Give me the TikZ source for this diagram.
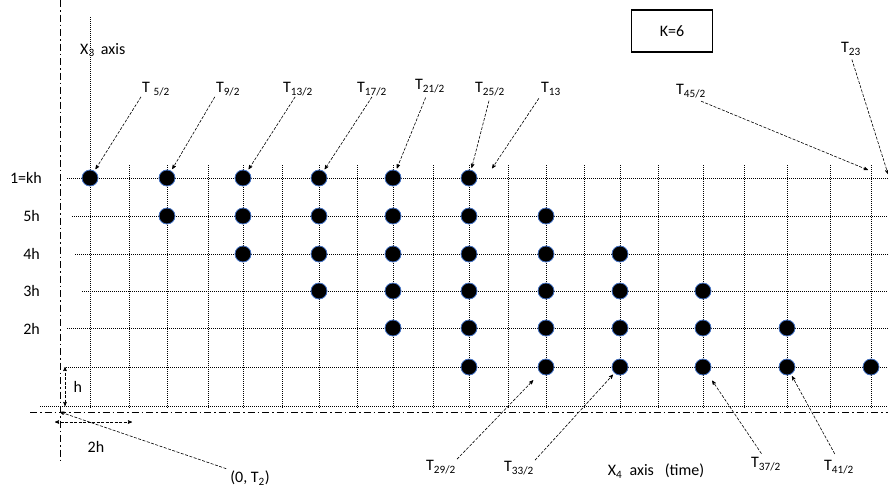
\documentclass[tikz,border=0pt]{standalone}
\usepackage{fontspec}
\setmainfont{Carlito}
\usetikzlibrary{arrows.meta, arrows}

\begin{document}
\begin{tikzpicture}[x=1pt,y=-1pt,>=stealth',font=\fontsize{16}{19}\selectfont,
    gridline/.style={line width=0.6pt,dash pattern=on 1pt off 1pt},
    axisline/.style={line width=0.6pt,dash pattern=on 7pt off 3pt on 1.5pt off 3pt},
    pointer/.style={->,line width=0.6pt,dash pattern=on 3pt off 1.5pt,shorten >=2pt},
    measure/.style={<->,line width=0.6pt,dash pattern=on 3pt off 1.5pt},
    dot/.style={circle,fill=black,draw={rgb,255:red,68;green,114;blue,196},line width=0.8pt,minimum size=16pt,inner sep=0pt},
    lbl/.style={inner sep=1pt}]

    \useasboundingbox (0,0) rectangle (888,491);

    % axes
    \draw[axisline] (60,0) -- (60,460);
    \draw[axisline] (30,412) -- (888,412);
    \coordinate (o) at (60,412);

    % grid
    \draw[gridline] (90,17) -- (90,408);
    \foreach \x in {129,167,208,243,282,319,357,393,433,469,508,546,584,620,658,703,744,787,830,871}
        \draw[gridline] (\x,165) -- (\x,408);
    \foreach \y/\xs in {178/67,216/72,254/75,291/82,328/67,367/66,406/40}
        \draw[gridline] (\xs,\y) -- (888,\y);

    % row labels
    \node[lbl,anchor=east] (r6) at (43,178) {1=kh};
    \node[lbl,anchor=east] (r5) at (41,216) {5h};
    \node[lbl,anchor=east] (r4) at (41,254) {4h};
    \node[lbl,anchor=east] (r3) at (41,291) {3h};
    \node[lbl,anchor=east] (r2) at (41,329) {2h};

    % dots
    \foreach \x [count=\j from 0] in {90,167,243,319,393,469,546,620,703,787,871}
        \foreach \r/\y in {6/178,5/216,4/254,3/291,2/328,1/367} {
            \pgfmathtruncatemacro\lo{max(1,6-\j)}
            \pgfmathtruncatemacro\hi{min(6,11-\j)}
            \ifnum\r<\lo\relax\else\ifnum\r>\hi\relax\else
                \node[dot] (d-\j-\r) at (\x,\y) {};
            \fi\fi
        }

    % titles
    \node[lbl,anchor=west] (x3) at (79,50) {X\textsubscript{3}\, axis};
    \node[draw,line width=1.2pt,minimum width=81pt,minimum height=42pt] (k) at (672,31) {K=6};
    \node[lbl] (x4) at (656,471) {X\textsubscript{4}\ \ axis \ \ (time)};

    % top labels
    \node[lbl] (t52) at (156,89) {T \textsubscript{5/2}};
    \node[lbl] (t92) at (228,89) {T\textsubscript{9/2}};
    \node[lbl] (t132) at (298,89) {T\textsubscript{13/2}};
    \node[lbl] (t172) at (372,89) {T\textsubscript{17/2}};
    \node[lbl] (t212) at (430,86) {T\textsubscript{21/2}};
    \node[lbl] (t252) at (490,89) {T\textsubscript{25/2}};
    \node[lbl] (t13) at (551,89) {T\textsubscript{13}};
    \node[lbl] (t452) at (691,91) {T\textsubscript{45/2}};
    \node[lbl] (t23) at (851,49) {T\textsubscript{23}};
    \coordinate (e13) at (491,170);
    \coordinate (e452) at (868,170);
    \coordinate (e23) at (888,174);

    \draw[pointer] (t52.south west) -- (d-0-6);
    \draw[pointer] (t92.south west) -- (d-1-6);
    \draw[pointer] (t132.250) -- (d-2-6);
    \draw[pointer] (t172.south) -- (d-3-6);
    \draw[pointer,shorten <=4pt] (t212.250) -- (d-4-6);
    \draw[pointer,shorten <=4pt] (t252.south) -- (d-5-6);
    \draw[pointer,shorten <=2pt] (t13.south west) -- (e13);
    \draw[pointer,shorten <=6pt,shorten >=0pt] (t452.300) -- (e452);
    \draw[pointer,shorten <=3pt,shorten >=0pt] (t23.south) -- (e23);

    % bottom labels
    \node[lbl] (t292) at (441,467) {T\textsubscript{29/2}};
    \node[lbl] (t332) at (519,468) {T\textsubscript{33/2}};
    \node[lbl] (t372) at (766,464) {T\textsubscript{37/2}};
    \node[lbl] (t412) at (839,467) {T\textsubscript{41/2}};
    \node[lbl] (t2) at (250,478) {(0, T\textsubscript{2})};

    \draw[pointer,shorten >=10pt] (t292.north east) -- (d-6-1);
    \draw[pointer] (t332.north east) -- (d-7-1);
    \draw[pointer,shorten <=3pt,shorten >=8pt] (t372.110) -- (d-8-1);
    \draw[pointer,shorten <=6pt] (t412.100) -- (d-9-1);
    \draw[pointer,shorten <=3pt,shorten >=0pt] (t2.north west) -- (o);

    % spacing marks
    \coordinate (h-top) at (65,367);
    \coordinate (h-bot) at (65,406);
    \coordinate (w-left) at (55,422);
    \coordinate (w-right) at (132,422);
    \draw[measure] (h-top) -- (h-bot) node[midway,right=5pt] (hl) {h};
    \draw[measure] (w-left) -- (w-right);
    \node[lbl] (wl) at (96,447) {2h};
\end{tikzpicture}
\end{document}
